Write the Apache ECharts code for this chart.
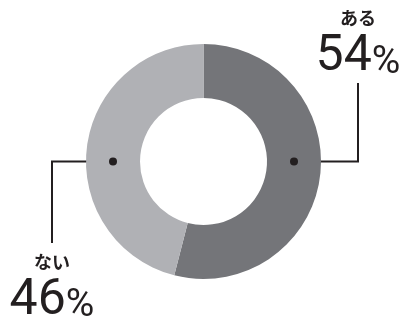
<!DOCTYPE html>
<html>
<head>
<meta charset="utf-8">
<style>
  html, body { margin: 0; padding: 0; background: #ffffff; }
  #chart { width: 402px; height: 320px; }
</style>
<script src="https://cdn.jsdelivr.net/npm/echarts@6/dist/echarts.min.js"></script>
</head>
<body>
<div id="chart"></div>
<script>
// Answers and their shares (%)
const categories = ['ある', 'ない'];
const values = [54, 46];
const sliceColors = ['#747579', '#b0b1b5'];

// Ring geometry
const CX = 203.5, CY = 161.5;
const R_IN = 63.5, R_OUT = 117.5;
const R_MID = (R_IN + R_OUT) / 2;
const INK = '#231f20';

// Leader lines: horizontal run from the ring, then vertical run to the label
const leaders = [
  { side: 1, reach: 154.5, rise: -78.5, gap: -0.5 },  // ある: right, up
  { side: -1, reach: 151.5, rise: 81.5, gap: 5 }      // ない: left, down
];

const chart = echarts.init(document.getElementById('chart'), null, { renderer: 'canvas' });

chart.setOption({
  backgroundColor: '#ffffff',
  animation: false,
  series: [{
    type: 'pie',
    center: [CX, CY],
    radius: [R_IN, R_OUT],
    startAngle: 90,
    clockwise: true,
    silent: true,
    avoidLabelOverlap: false,
    itemStyle: { borderWidth: 0 },
    data: categories.map((c, i) => ({ name: c, value: values[i], itemStyle: { color: sliceColors[i] } })),
    label: {
      show: true,
      position: 'outside',
      overflow: 'none',
      formatter: p => '{k|' + p.name + '}\n{n|' + p.value + '}{p|%}',
      rich: {
        k: { fontFamily: 'Noto Sans CJK JP', fontWeight: 'bold', fontSize: 18, lineHeight: 28, color: INK, align: 'center' },
        n: { fontFamily: 'Roboto', fontWeight: 'normal', fontSize: 50, lineHeight: 50, color: INK },
        p: { fontFamily: 'Roboto', fontWeight: 'normal', fontSize: 39, lineHeight: 50, color: INK, verticalAlign: 'bottom' }
      }
    },
    labelLine: { show: true, lineStyle: { color: INK, width: 2 } },
    labelLayout: function (params) {
      const L = leaders[params.dataIndex];
      const x0 = CX + L.side * R_MID;
      const x1 = CX + L.side * L.reach;
      const y1 = CY + L.rise;
      return {
        x: x1,
        y: y1 + L.gap,
        align: 'center',
        verticalAlign: L.rise < 0 ? 'bottom' : 'top',
        labelLinePoints: [[x0, CY], [x1, CY], [x1, y1]]
      };
    }
  }],
  graphic: leaders.map(L => ({
    type: 'circle',
    shape: { cx: CX + L.side * R_MID, cy: CY, r: 4 },
    style: { fill: INK },
    z: 100
  }))
});
</script>
</body>
</html>
